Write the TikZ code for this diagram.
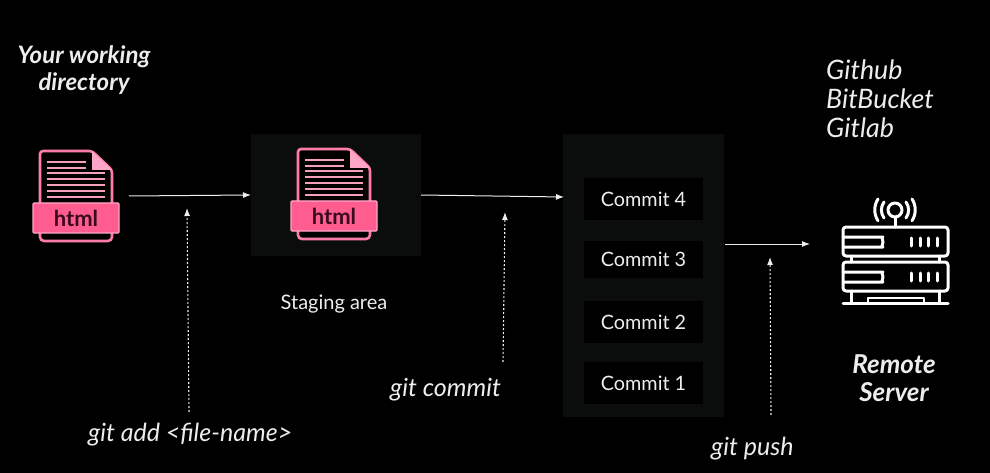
\documentclass[tikz,border=0pt]{standalone}
\usepackage{fontspec}
\setmainfont{Lato}
\usetikzlibrary{arrows.meta}
\definecolor{panel}{HTML}{0A0D0B}
\definecolor{hotpink}{HTML}{FF5C8F}
\definecolor{lightpink}{HTML}{FFA6C8}
\definecolor{linepink}{HTML}{F4A0B8}
\definecolor{darkmaroon}{HTML}{3A0A1E}
\definecolor{soft}{HTML}{EDEDED}
\tikzset{
  flow/.style={draw=soft,line width=1pt,-{Latex[length=8pt,width=6pt]}},
  hint/.style={draw=soft,line width=1.1pt,dash pattern=on 2pt off 2pt,-{Latex[length=8pt,width=6pt]}},
  panelbox/.style={fill=panel,draw=none,inner sep=0pt,outer sep=0pt},
  commitbox/.style={fill=black,draw=none,inner sep=0pt,outer sep=0pt,text=soft,font=\fontsize{19.8}{22}\selectfont,minimum width=119pt},
  note/.style={text=soft,font=\fontsize{25}{29}\selectfont\itshape,inner sep=0pt},
  heading/.style={text=soft,font=\fontsize{24}{26.5}\selectfont\bfseries\itshape,align=center,inner sep=0pt},
  icon/.style={draw=white,line width=3pt,line cap=round,line join=round},
  fileicon/.pic={
    \fill[black] (40,153) -- (92,153) -- (112,171) -- (112,240) -- (40,240) -- cycle;
    \draw[hotpink!80!white,line width=2.6pt,rounded corners=3pt] (40,203) -- (40,151) -- (92,151) -- (112,170) -- (112,203);
    \fill[lightpink] (92,151) -- (112,170) -- (92,170) -- cycle;
    \draw[hotpink!80!white,line width=2.6pt,rounded corners=4pt] (40,232) -- (40,241) -- (112,241) -- (112,232);
    \foreach \yy in {162,168}{\draw[linepink,line width=2.4pt] (47,\yy) -- (86,\yy);}
    \foreach \yy in {173,179,185,191,197}{\draw[linepink,line width=2.4pt] (47,\yy) -- (105,\yy);}
    \fill[hotpink,draw=lightpink,line width=1.4pt,rounded corners=1pt] (33,203) rectangle (119,233);
    \node[text=darkmaroon,font=\fontsize{22}{24}\selectfont\bfseries,inner sep=0pt] at (76,218) {html};
  },
  serverunit/.pic={
    \draw[icon,rounded corners=3pt] (843,227) rectangle (948,256);
    \draw[icon,rounded corners=5pt] (843,237) -- (878,237) arc[start angle=90,end angle=-90,radius=5pt] -- (843,247);
    \foreach \xx in {911,920,928,937}{\draw[icon] (\xx,238) -- (\xx,246);}
  }
}
\begin{document}
\begin{tikzpicture}[x=1pt,y=-1pt]
\useasboundingbox (0,0) rectangle (990,473);
\fill[black] (0,0) rectangle (990,473);

% panels
\node[panelbox,minimum width=170pt,minimum height=122pt] (stage) at (336,195) {};
\node[panelbox,minimum width=161pt,minimum height=283pt] (commits) at (643.5,275.5) {};

% commits
\node[commitbox,minimum height=42pt] (c4) at (643.5,199) {Commit 4};
\node[commitbox,minimum height=37pt] (c3) at (643.5,259.5) {Commit 3};
\node[commitbox,minimum height=42pt] (c2) at (643.5,322) {Commit 2};
\node[commitbox,minimum height=42pt] (c1) at (643.5,383) {Commit 1};

% file icons
\pic at (0,0) {fileicon};
\pic at (258,-2) {fileicon};

% server icon
\pic at (0,0) {serverunit};
\pic at (0,35) {serverunit};
\draw[icon] (851,256) -- (851,262) (939,256) -- (939,262);
\draw[icon] (851,291) -- (851,303) (939,291) -- (939,303);
\draw[icon] (843,303) -- (948,303);
\draw[icon,line width=2.6pt] (868,303) -- (868,298) -- (924,298) -- (924,303);
\draw[icon] (895,217) -- (895,227);
\draw[icon] (895,210) circle[radius=7pt];
\draw[icon] (884,202) arc[start angle=144,end angle=216,radius=13.6pt];
\draw[icon] (906,202) arc[start angle=36,end angle=-36,radius=13.6pt];
\draw[icon] (878,199) arc[start angle=147,end angle=213,radius=20pt];
\draw[icon] (912,199) arc[start angle=33,end angle=-33,radius=20pt];

% anchors
\coordinate (a1s) at (129,196);
\coordinate (a2s) at (421,195);
\coordinate (a2e) at (564,197);
\coordinate (a3s) at (725,244);
\coordinate (a3e) at (810,244);
\coordinate (h1s) at (189,412);
\coordinate (h1e) at (187,208);
\coordinate (h2s) at (503,362);
\coordinate (h2e) at (505,212);
\coordinate (h3s) at (771,415);
\coordinate (h3e) at (770,257);

% connectors
\draw[flow] (a1s) -- (stage.west);
\draw[flow] (a2s) -- (a2e);
\draw[flow] (a3s) -- (a3e);
\draw[hint] (h1s) -- (h1e);
\draw[hint] (h2s) -- (h2e);
\draw[hint] (h3s) -- (h3e);

% labels
\node[heading] (wd) at (84,70) {Your working\\directory};
\node[heading,font=\fontsize{26}{28}\selectfont\bfseries\itshape] (rs) at (894,378) {Remote\\Server};
\node[note,font=\fontsize{26.8}{29}\selectfont\itshape,align=left,anchor=north west] (hosts) at (826,60) {Github\\BitBucket\\Gitlab};
\node[text=soft,font=\fontsize{20}{22}\selectfont,inner sep=0pt] (sa) at (334,304) {Staging area};
\node[note,anchor=west] (ga) at (88,435) {git add <file-name>};
\node[note,anchor=west] (gc) at (390,390) {git commit};
\node[note,anchor=west] (gp) at (711,449) {git push};
\end{tikzpicture}
\end{document}
